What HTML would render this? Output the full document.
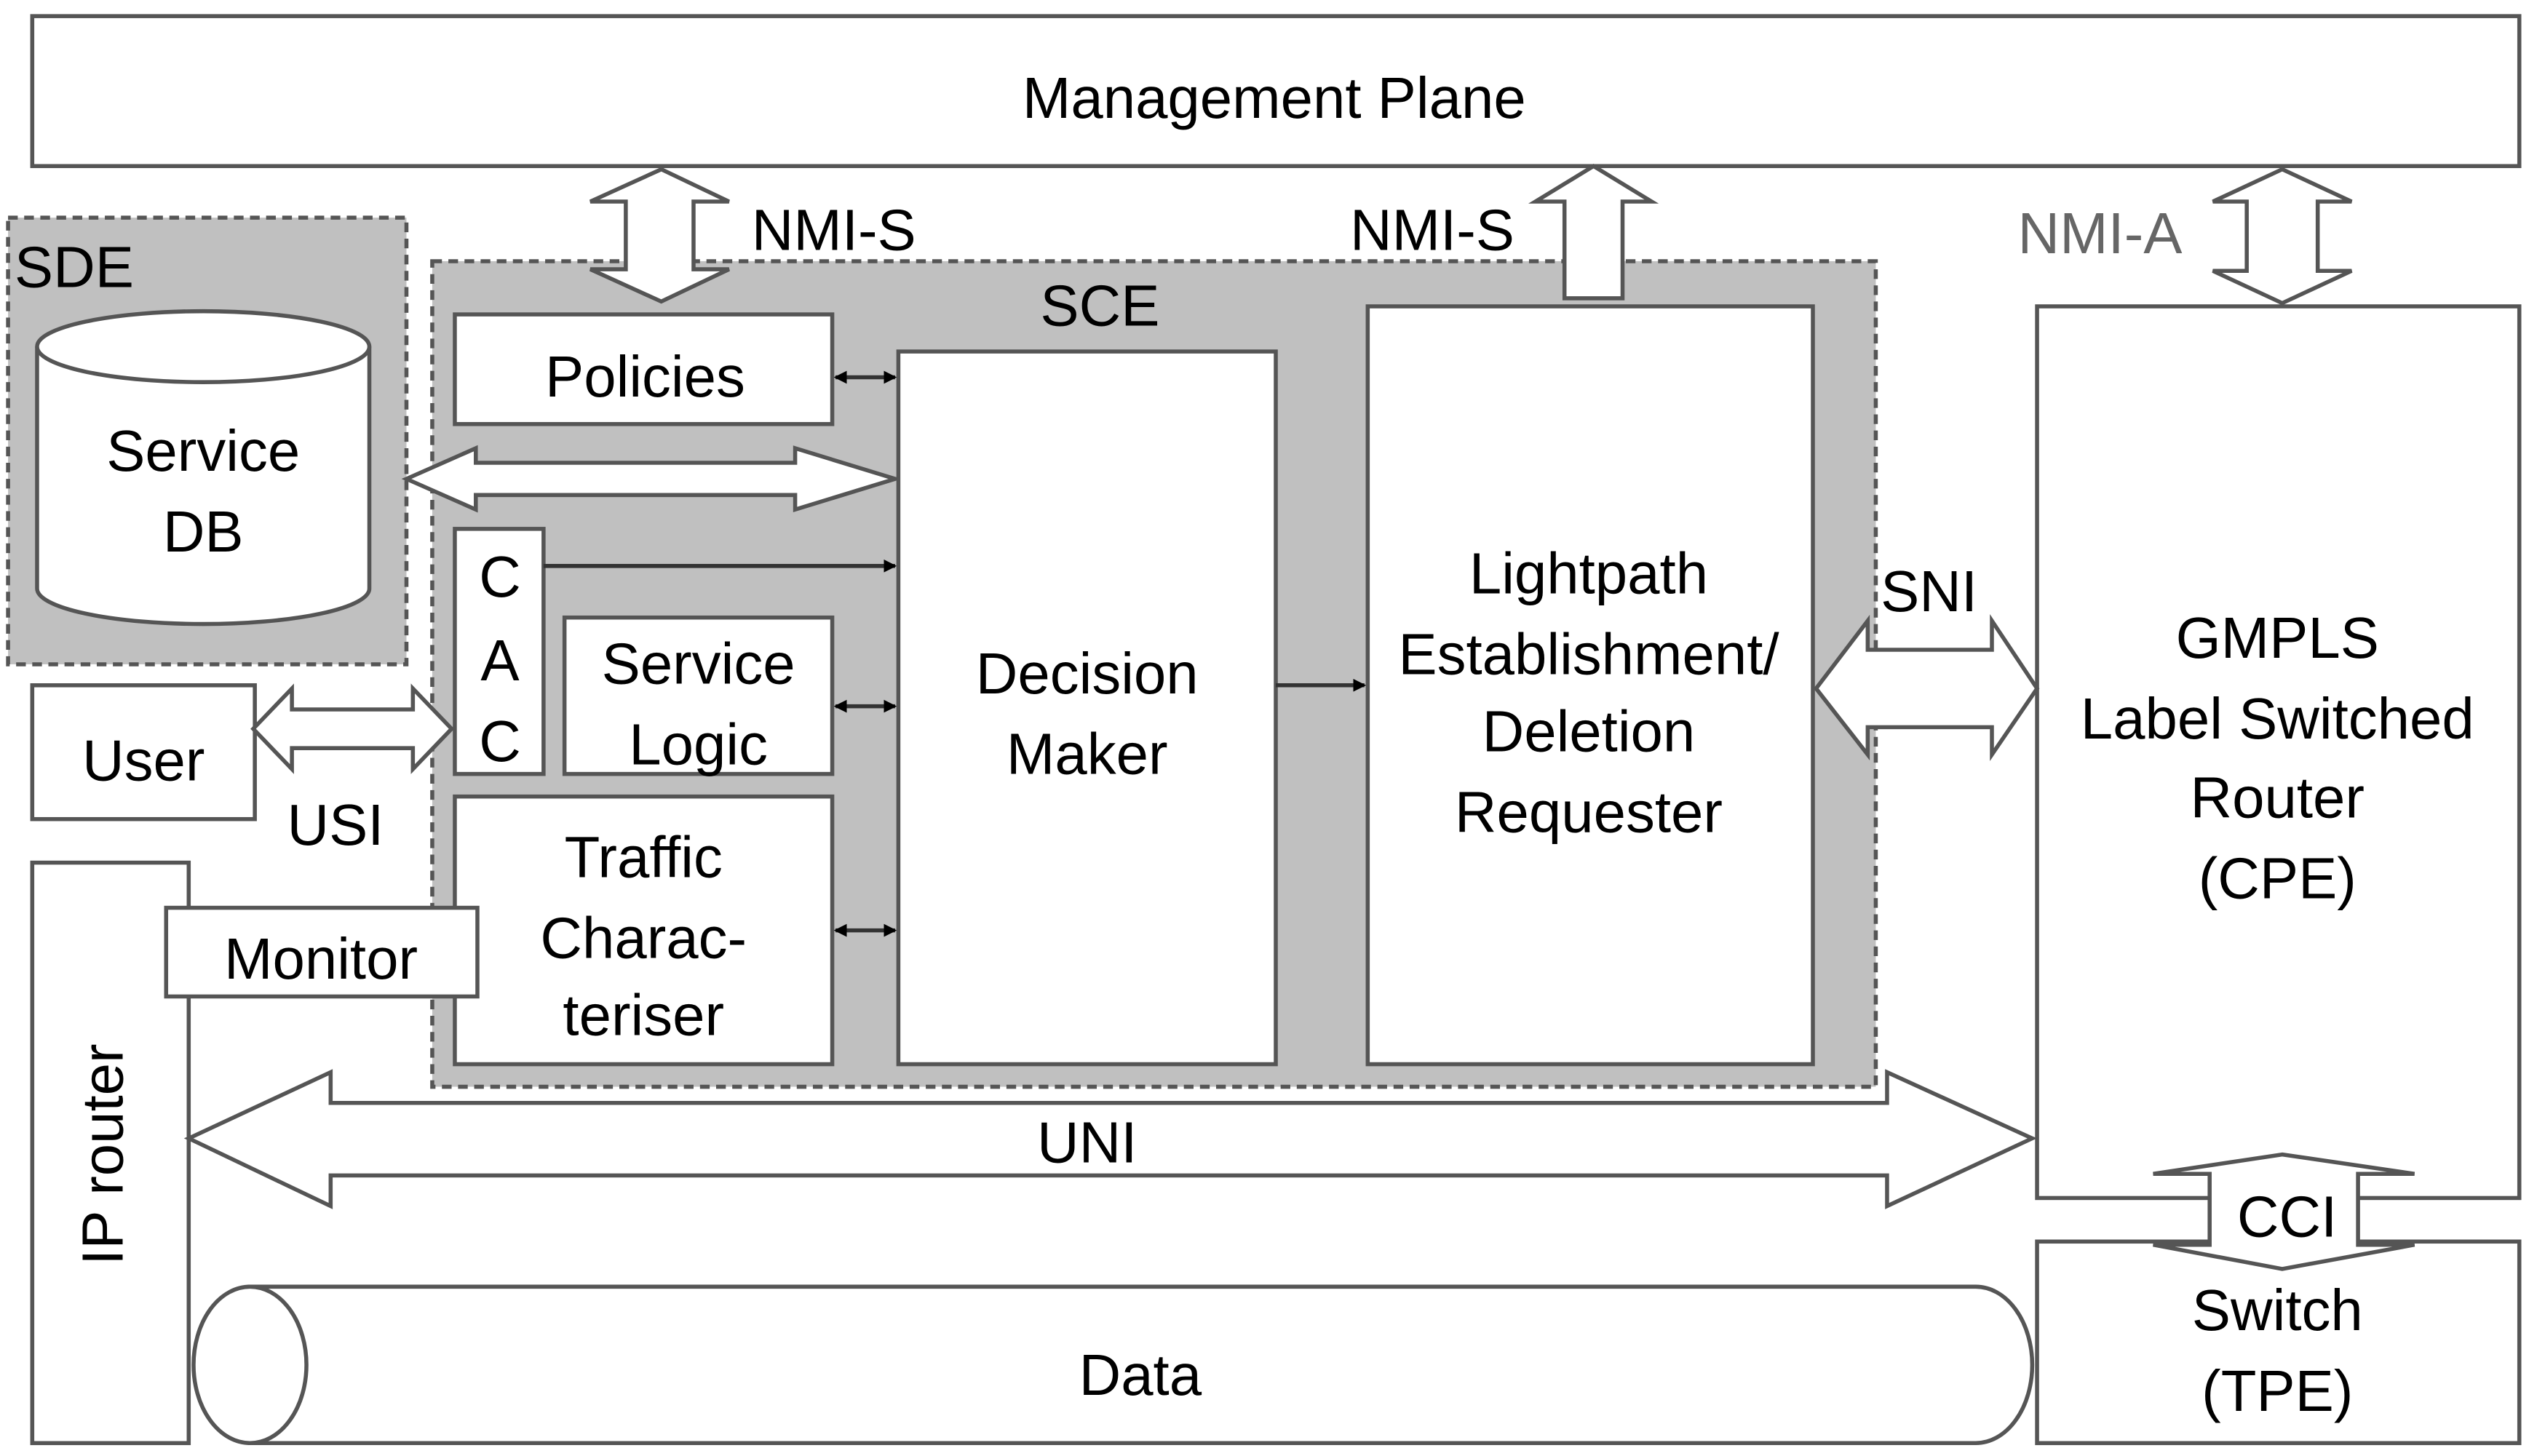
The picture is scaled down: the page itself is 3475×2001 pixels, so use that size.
<!DOCTYPE html>
<html><head><meta charset="utf-8"><style>
html,body{margin:0;padding:0;background:#fff}
svg{display:block}
text{font-family:"Liberation Sans",sans-serif;fill:#000}
</style></head><body>
<svg width="3475" height="2001" viewBox="0 0 1568 903" preserveAspectRatio="none" xmlns="http://www.w3.org/2000/svg">
<defs>
<marker id="ah" markerWidth="8" markerHeight="8" refX="7" refY="4" orient="auto" markerUnits="userSpaceOnUse"><path d="M0,0 L8,4 L0,8 z" fill="#000"/></marker>
<marker id="ahs" markerWidth="8" markerHeight="8" refX="1" refY="4" orient="auto" markerUnits="userSpaceOnUse"><path d="M8,0 L0,4 L8,8 z" fill="#000"/></marker>
</defs>
<g stroke="#555" stroke-width="2.5" fill="#fff">
<rect x="20" y="10" width="1542" height="93"/>
<rect x="5" y="135" width="247" height="277" fill="#c0c0c0" stroke-dasharray="6,4"/>
<rect x="268" y="162" width="895" height="512" fill="#c0c0c0" stroke-dasharray="6,4"/>
<path d="M23,215 L23,365 A103,22 0 0 0 229,365 L229,215" />
<ellipse cx="126" cy="215" rx="103" ry="22"/>
<path d="M410,105 L452,125 L430,125 L430,167 L452,167 L410,187 L366,167 L388,167 L388,125 L366,125 Z"/>
<path d="M988,103 L1024,125 L1006,125 L1006,185 L970,185 L970,125 L952,125 Z"/>
<path d="M1415,105 L1458,125 L1437,125 L1437,168 L1458,168 L1415,188 L1372,168 L1393,168 L1393,125 L1372,125 Z"/>
<rect x="282" y="195" width="234" height="68"/>
<path d="M252,297 L295,278 L295,287 L493,287 L493,278 L555,297 L493,316 L493,307 L295,307 L295,316 Z"/>
<rect x="282" y="328" width="55" height="152"/>
<rect x="350" y="383" width="166" height="97"/>
<rect x="282" y="494" width="234" height="166"/>
<rect x="557" y="218" width="234" height="442"/>
<rect x="848" y="190" width="276" height="470"/>
<rect x="1263" y="190" width="299" height="553"/>
<rect x="1263" y="770" width="299" height="125"/>
<rect x="20" y="425" width="138" height="83"/>
<path d="M157,452 L181,427 L181,440 L256,440 L256,427 L280,452 L256,477 L256,464 L181,464 L181,477 Z"/>
<rect x="20" y="535" width="97" height="360"/>
<rect x="103" y="563" width="193" height="55"/>
<path d="M117,706 L205,665 L205,684 L1170,684 L1170,665 L1260,706 L1170,748 L1170,729 L205,729 L205,748 Z"/>
<path d="M155,798 L1225,798 A35,48.5 0 0 1 1225,895 L155,895 Z"/>
<ellipse cx="155" cy="846.5" rx="35" ry="48.5"/>
<path d="M1126,427 L1158,385 L1158,403 L1235,403 L1235,385 L1263,427 L1235,468 L1235,451 L1158,451 L1158,468 Z"/>
<path d="M1415,716 L1497,728 L1462,728 L1462,772 L1497,772 L1415,787 L1335,772 L1370,772 L1370,728 L1335,728 Z"/>
</g>
<g stroke="#333" stroke-width="2.5" fill="none">
<line x1="518" y1="234" x2="555" y2="234" marker-end="url(#ah)" marker-start="url(#ahs)"/>
<line x1="337" y1="351" x2="555" y2="351" marker-end="url(#ah)"/>
<line x1="518" y1="438" x2="555" y2="438" marker-end="url(#ah)" marker-start="url(#ahs)"/>
<line x1="518" y1="577" x2="555" y2="577" marker-end="url(#ah)" marker-start="url(#ahs)"/>
<line x1="791" y1="425" x2="846" y2="425" marker-end="url(#ah)"/>
</g>
<g font-size="36" text-anchor="middle">
<text x="790" y="73">Management Plane</text>
<text x="46" y="178">SDE</text>
<text x="682" y="202">SCE</text>
<text x="126" y="292">Service</text>
<text x="126" y="342">DB</text>
<text x="517" y="155">NMI-S</text>
<text x="888" y="155">NMI-S</text>
<text x="1302" y="157" style="fill:#666">NMI-A</text>
<text x="400" y="246">Policies</text>
<text x="310" y="370">C</text>
<text x="310" y="422">A</text>
<text x="310" y="472">C</text>
<text x="433" y="424">Service</text>
<text x="433" y="474">Logic</text>
<text x="399" y="544">Traffic</text>
<text x="399" y="594">Charac-</text>
<text x="399" y="642">teriser</text>
<text x="674" y="430">Decision</text>
<text x="674" y="480">Maker</text>
<text x="985" y="368">Lightpath</text>
<text x="985" y="418">Establishment/</text>
<text x="985" y="466">Deletion</text>
<text x="985" y="516">Requester</text>
<text x="1412" y="408">GMPLS</text>
<text x="1412" y="458">Label Switched</text>
<text x="1412" y="507">Router</text>
<text x="1412" y="557">(CPE)</text>
<text x="1412" y="825">Switch</text>
<text x="1412" y="875">(TPE)</text>
<text x="1418" y="767">CCI</text>
<text x="1196" y="379">SNI</text>
<text x="89" y="484">User</text>
<text x="208" y="524">USI</text>
<text x="199" y="607">Monitor</text>
<text x="674" y="721">UNI</text>
<text x="707" y="865">Data</text>
<text transform="translate(76,716) rotate(-90)">IP router</text>
</g>
</svg>
</body></html>
